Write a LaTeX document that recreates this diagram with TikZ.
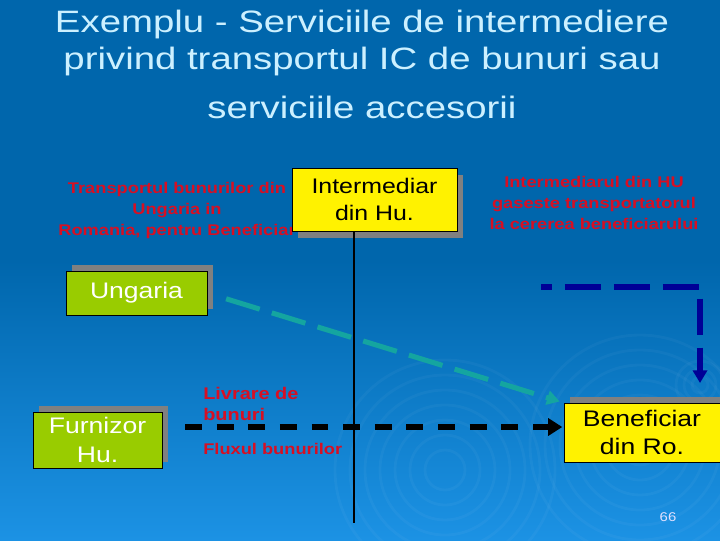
\documentclass[tikz,border=0pt]{standalone}
\usepackage{fontspec}
\setmainfont{Liberation Sans}[FakeStretch=1.18]
\newfontfamily\titlefont{Liberation Sans}[FakeStretch=1.24]
\usetikzlibrary{arrows.meta}
\usetikzlibrary{shadows}

\definecolor{bgtop}{RGB}{0,102,172}
\definecolor{bgbot}{RGB}{28,146,228}
\definecolor{titlecyan}{RGB}{204,240,255}
\definecolor{slidered}{RGB}{215,15,35}
\definecolor{limegreen}{RGB}{153,204,0}
\definecolor{shadowgray}{RGB}{128,128,128}
\definecolor{flowteal}{RGB}{20,165,160}
\definecolor{navyline}{RGB}{0,0,150}

\begin{document}
\begin{tikzpicture}[x=0.025cm, y=-0.025cm,
	every node/.style={inner sep=0pt},
	titletext/.style={text=titlecyan, font=\titlefont\fontsize{22}{26}\selectfont, anchor=base},
	redtext/.style={text=slidered, font=\bfseries\fontsize{11}{15}\selectfont, align=center},
	shadowup/.style={general shadow={fill=shadowgray, shadow xshift=4.3pt, shadow yshift=4.3pt}},
	shadowdown/.style={general shadow={fill=shadowgray, shadow xshift=4pt, shadow yshift=-5pt}},
	greenbox/.style={draw=black, fill=limegreen, text=white, align=center, font=\fontsize{16}{20.6}\selectfont},
	yellowbox/.style={draw=black, fill=yellow, text=black, align=center, font=\fontsize{16}{20}\selectfont},
	ripple/.style={white, opacity=0.035, line width=2pt},
	tealflow/.style={flowteal, line width=3.6pt, dash pattern=on 25pt off 9pt, -{Triangle[length=9pt, width=10pt]}},
	blackflow/.style={black, line width=4.5pt, dash pattern=on 12pt off 10.5pt, -{Triangle[length=10pt, width=12pt]}},
	navyflow/.style={navyline, line width=4.3pt, dash pattern=on 25.6pt off 9.2pt, dash phase=17.8pt, -{Triangle[length=9pt, width=10pt]}}
	]
	\useasboundingbox (0,0) rectangle (720,540);
	%
	%Hintergrund
	\fill[bgtop] (0,0) rectangle (720,262);
	\shade[top color=bgtop, bottom color=bgbot] (0,260) rectangle (720,540);
	\foreach \r in {20,35,...,110} \draw[ripple] (445,470) circle (\r);
	\foreach \r in {20,35,...,110} \draw[ripple] (640,445) circle (\r);
	\foreach \r in {8,16,24} \draw[ripple] (700,385) circle (\r);
	%
	%Titel
	\node[titletext] (title1) at (362,32) {Exemplu - Serviciile de intermediere};
	\node[titletext] (title2) at (362,69) {privind transportul IC de bunuri sau};
	\node[titletext] (title3) at (362,118) {serviciile accesorii};
	%
	%Text links oben
	\node[redtext, anchor=north] (transport) at (177,182) {Transportul bunurilor din\\ Ungaria in\\ Romania, pentru Beneficiar};
	%
	%Text rechts oben
	\node[redtext, anchor=north] (finder) at (594,176) {Intermediarul din HU\\ gaseste transportatorul\\ la cererea beneficiarului};
	%
	%Intermediar
	\node[yellowbox, shadowdown, font=\fontsize{15}{19}\selectfont, minimum width=4.125cm, minimum height=1.575cm] (inter) at (374.5,199.5) {Intermediar\\ din Hu.};
	%
	%Achse
	\coordinate (axisbottom) at (354,523);
	\draw[line width=2pt] (inter.south -| axisbottom) -- (axisbottom);
	%
	%Ungaria
	\node[greenbox, shadowup, minimum width=3.525cm, minimum height=1.1cm] (ungaria) at (136.5,293) {Ungaria};
	%
	%Furnizor
	\node[greenbox, shadowup, minimum width=3.225cm, minimum height=1.4cm] (furnizor) at (97.5,440) {Furnizor\\ Hu.};
	%
	%Beneficiar
	\node[yellowbox, shadowup, minimum width=3.9cm, minimum height=1.475cm] (benef) at (642,432.5) {Beneficiar\\ din Ro.};
	%
	%Labels Fluss
	\node[redtext, font=\bfseries\fontsize{12}{15}\selectfont, align=left, anchor=north west] (delivery) at (203,387) {Livrare de\\ bunuri};
	\node[redtext, anchor=west] (flowlabel) at (203,449) {Fluxul bunurilor};
	%
	%Pfeil Ungaria - Beneficiar
	\draw[tealflow, shorten <=14pt, shorten >=3pt] (ungaria.east) -- (benef.north west);
	%
	%Pfeil Furnizor - Beneficiar
	\coordinate (flowstart) at (185,427);
	\draw[blackflow, shorten >=1pt] (flowstart) -- (flowstart -| benef.west);
	%
	%Pfeil Auftrag
	\coordinate (navystart) at (541,287);
	\coordinate (navyend) at (700,383);
	\draw[navyflow] (navystart) -| (navyend);
	%
	%Seite
	\node[text=white!88!blue, font=\fontsize{9}{10}\selectfont] (pagenum) at (668,517) {66};
\end{tikzpicture}
\end{document}
